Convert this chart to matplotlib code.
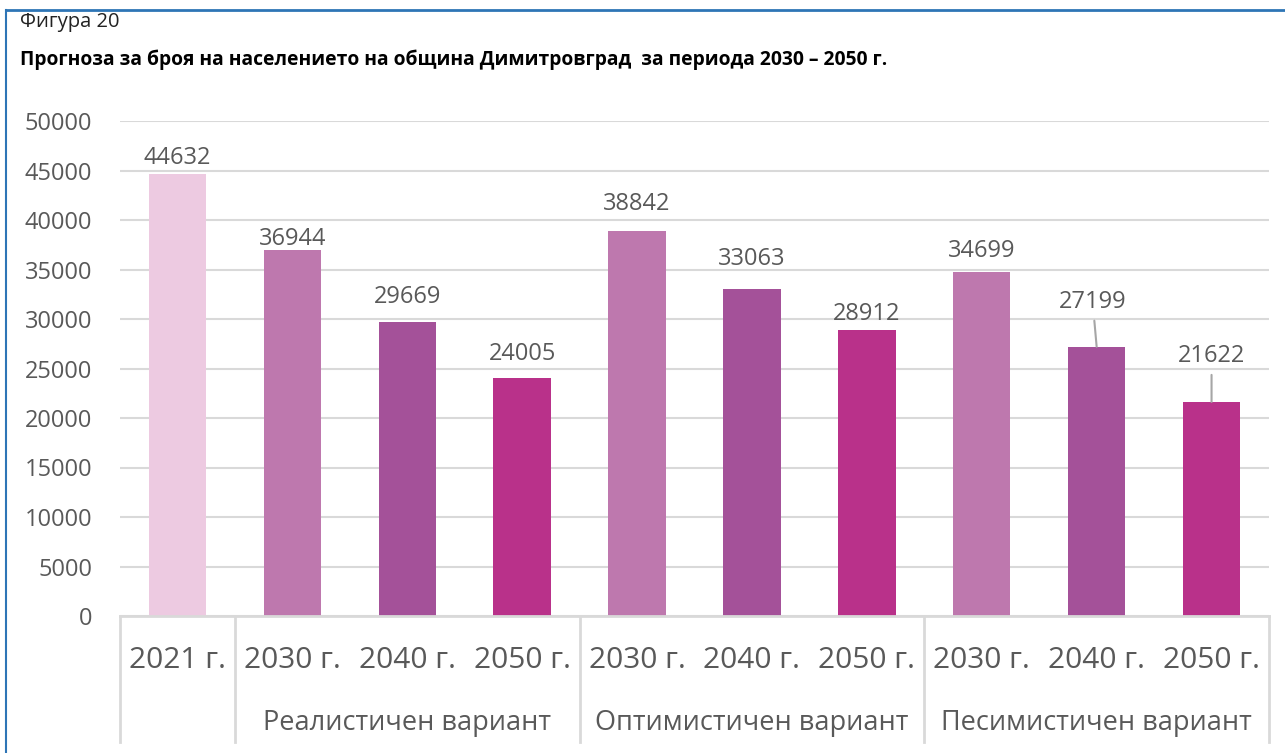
import matplotlib
matplotlib.use("Agg")
import matplotlib.pyplot as plt
from matplotlib.lines import Line2D

# ---------------- Data ----------------
years = ["2021 г.", "2030 г.", "2040 г.", "2050 г.", "2030 г.", "2040 г.", "2050 г.",
         "2030 г.", "2040 г.", "2050 г."]
population = [44632, 36944, 29669, 24005, 38842, 33063, 28912, 34699, 27199, 21622]
groups = ["Реалистичен вариант", "Оптимистичен вариант", "Песимистичен вариант"]
group_spans = [(1, 3), (4, 6), (7, 9)]
colors = ["#EDCAE1", "#BE78AE", "#A45199", "#B9318A", "#BE78AE", "#A45199", "#B9318A",
          "#BE78AE", "#A45199", "#B9318A"]
# label offsets above bar tops (pixels), as placed in the original
label_dy = [16, 11, 25, 24, 27, 30, 16, 21, 45, 46]

plt.rcParams['font.family'] = ['Open Sans', 'DejaVu Sans']
grey = "#595959"
line_grey = "#D9D9D9"

W, H = 1285, 753
fig = plt.figure(figsize=(W / 100, H / 100), dpi=100)
ax = fig.add_axes([120 / W, 137 / H, 1149 / W, 495 / H])

x = list(range(len(population)))
ax.bar(x, population, width=0.5, color=colors, zorder=2)
ax.set_xlim(-0.5, len(population) - 0.5)
ax.set_ylim(0, 50000)
ax.set_yticks(range(0, 50001, 5000))
ax.tick_params(axis='y', length=0, labelsize=17, labelcolor=grey, pad=20)
ax.set_xticks([])
ax.grid(axis='y', color=line_grey, linewidth=1.5, zorder=0)
for s in ax.spines.values():
    s.set_visible(False)

# data labels
for i, v in enumerate(population):
    if i in (8, 9):
        ax.annotate(str(v), xy=(i, v), xytext=(-4 if i == 8 else 0, label_dy[i]),
                    textcoords='offset pixels', ha='center', va='center',
                    fontsize=17, color=grey,
                    arrowprops=dict(arrowstyle='-', color='#A6A6A6', lw=1.5,
                                    shrinkA=3, shrinkB=0))
    else:
        ax.annotate(str(v), xy=(i, v), xytext=(0, label_dy[i]), textcoords='offset pixels',
                    ha='center', va='center', fontsize=17, color=grey)

# multi-level category axis
trans = ax.get_xaxis_transform()
ax.plot([-0.5, 9.5], [0, 0], transform=trans, color=line_grey, lw=2, clip_on=False)
for b in [-0.5, 0.5, 3.5, 6.5, 9.5]:
    ax.plot([b, b], [0, -126 / 495], transform=trans, color=line_grey, lw=2, clip_on=False)
for i, lab in enumerate(years):
    ax.text(i, -45 / 495, lab, transform=trans, ha='center', va='center',
            fontsize=21.5, color=grey)
for g, (a, b) in zip(groups, group_spans):
    ax.text((a + b) / 2, -107 / 495, g, transform=trans, ha='center', va='center',
            fontsize=19.5, color=grey)

# titles and frame
fig.text(20 / W, 1 - 22 / H, "Фигура 20", fontsize=14.5, color="#222222", va='center')
fig.text(20 / W, 1 - 60 / H,
         "Прогноза за броя на населението на община Димитровград  за периода 2030 – 2050 г.",
         fontsize=13.9, fontweight='bold', color='black', va='center')
fig.add_artist(Line2D([6 / W, 1], [1 - 10 / H, 1 - 10 / H], color='#2E75B6', lw=2))
fig.add_artist(Line2D([6 / W, 6 / W], [0, 1 - 10 / H], color='#2E75B6', lw=1.5))

fig.savefig("out.png", dpi=100, facecolor='white')
